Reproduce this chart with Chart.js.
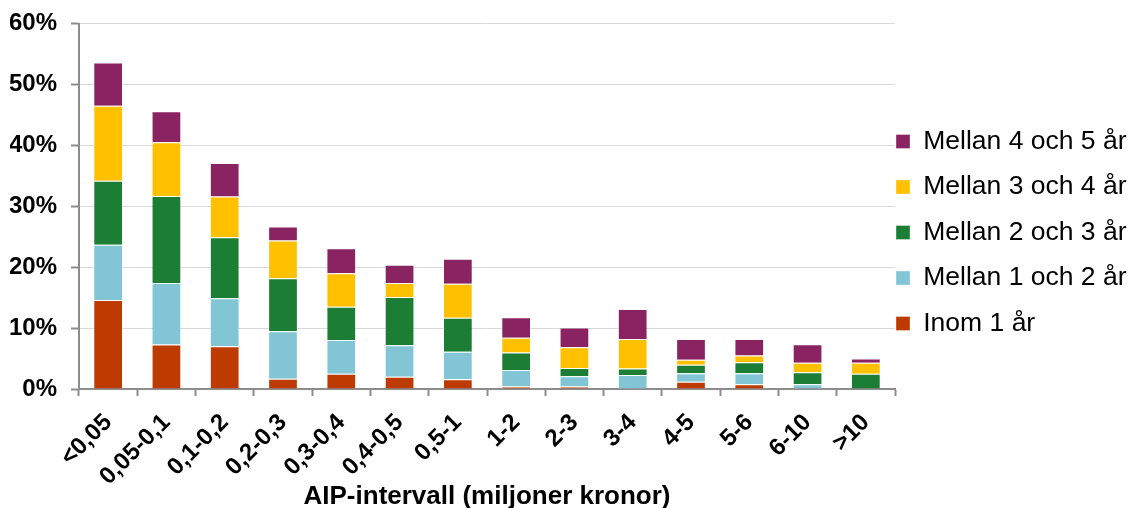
<!DOCTYPE html>
<html>
<head>
<meta charset="utf-8">
<script src="https://cdn.jsdelivr.net/npm/chart.js@4/dist/chart.umd.min.js"></script>
<style>
  html, body { margin: 0; padding: 0; background: #fff; }
  #wrap { width: 1128px; height: 508px; }
</style>
</head>
<body>
<div id="wrap"><canvas id="c" width="1128" height="508"></canvas></div>
<script>
// AIP intervals (million SEK)
const categories = ['<0,05', '0,05-0,1', '0,1-0,2', '0,2-0,3', '0,3-0,4', '0,4-0,5', '0,5-1',
                    '1-2', '2-3', '3-4', '4-5', '5-6', '6-10', '>10'];

// Share (%) per time bucket, stacked bottom to top
const inom1    = [14.6, 7.3, 7.0, 1.7, 2.5, 2.0, 1.6, 0.4, 0.4, 0.1, 1.2, 0.8, 0.1, 0];
const mellan12 = [9.1, 10.1, 7.9, 7.8, 5.55, 5.2, 4.5, 2.7, 1.7, 2.2, 1.4, 1.8, 0.7, 0];
const mellan23 = [10.5, 14.3, 10.0, 8.7, 5.45, 7.9, 5.6, 2.9, 1.35, 1.05, 1.4, 1.8, 1.95, 2.5];
const mellan34 = [12.3, 8.8, 6.7, 6.2, 5.5, 2.3, 5.6, 2.4, 3.4, 4.85, 0.8, 1.1, 1.55, 1.8];
const mellan45 = [7.1, 5.1, 5.5, 2.3, 4.1, 3.0, 4.1, 3.4, 3.25, 4.95, 3.4, 2.7, 3.05, 0.7];

const seriesNames = ['Inom 1 år', 'Mellan 1 och 2 år', 'Mellan 2 och 3 år', 'Mellan 3 och 4 år', 'Mellan 4 och 5 år'];
const seriesValues = [inom1, mellan12, mellan23, mellan34, mellan45];
const seriesColors = ['#BD3B00', '#82C6D5', '#1C7E35', '#FFC000', '#8A2362'];

const yTicks = [0, 10, 20, 30, 40, 50, 60];
const xTitle = 'AIP-intervall (miljoner kronor)';

const FONT = "'Liberation Sans', Arial, sans-serif";
const AXIS_GREY = '#8c8c8c';

// Widens the legend box to the left and lifts it so the entries sit
// a bit higher and closer to the plot
const LEGEND_DX = -18;
const LEGEND_DY = -24;
const legendPlacement = {
  id: 'legendPlacement',
  afterLayout(chart) {
    const lg = chart.legend;
    if (!lg) return;
    lg.left += LEGEND_DX;
    lg.width = lg.right - lg.left;
    lg.top += LEGEND_DY; lg.bottom += LEGEND_DY;
  }
};

new Chart(document.getElementById('c'), {
  type: 'bar',
  data: {
    labels: categories,
    datasets: seriesNames.map((name, i) => ({
      label: name,
      data: seriesValues[i],
      backgroundColor: seriesColors[i],
      borderColor: 'rgba(255,255,255,0.35)',
      borderWidth: 1,
      categoryPercentage: 1.0,
      barPercentage: 0.51
    }))
  },
  plugins: [legendPlacement],
  options: {
    responsive: false,
    animation: false,
    layout: { padding: { left: 10, top: 5, right: 0, bottom: 0 } },
    plugins: {
      tooltip: { enabled: false },
      legend: {
        position: 'right',
        reverse: true,
        maxWidth: 233,
        labels: {
          boxWidth: 14,
          boxHeight: 14,
          padding: 19,
          color: '#000',
          font: { family: FONT, size: 26.5 }
        }
      }
    },
    scales: {
      x: {
        stacked: true,
        afterFit: (axis) => { axis.height = 119; },
        grid: {
          drawOnChartArea: false,
          drawTicks: true,
          tickLength: 7,
          tickColor: AXIS_GREY,
          tickWidth: 2,
          offset: true
        },
        border: { color: AXIS_GREY, width: 2 },
        ticks: {
          autoSkip: false,
          minRotation: 45,
          maxRotation: 45,
          padding: 15,
          color: '#000',
          font: { family: FONT, size: 24, weight: 'bold', lineHeight: 0.9 }
        },
        title: {
          display: true,
          text: xTitle,
          color: '#000',
          padding: { top: 0, bottom: -1 },
          font: { family: FONT, size: 26, weight: 'bold', lineHeight: 0.9 }
        }
      },
      y: {
        stacked: true,
        min: yTicks[0],
        max: yTicks[yTicks.length - 1],
        afterBuildTicks: (axis) => { axis.ticks = yTicks.map(v => ({ value: v })); },
        afterFit: (axis) => { axis.width = 69; },
        grid: {
          color: '#d9d9d9',
          lineWidth: 1,
          tickLength: 8,
          tickColor: AXIS_GREY,
          tickWidth: 2
        },
        border: { color: AXIS_GREY, width: 2 },
        ticks: {
          padding: 14,
          color: '#000',
          font: { family: FONT, size: 24, weight: 'bold', lineHeight: 0.8 },
          callback: (v) => v + '%'
        }
      }
    }
  }
});
</script>
</body>
</html>
